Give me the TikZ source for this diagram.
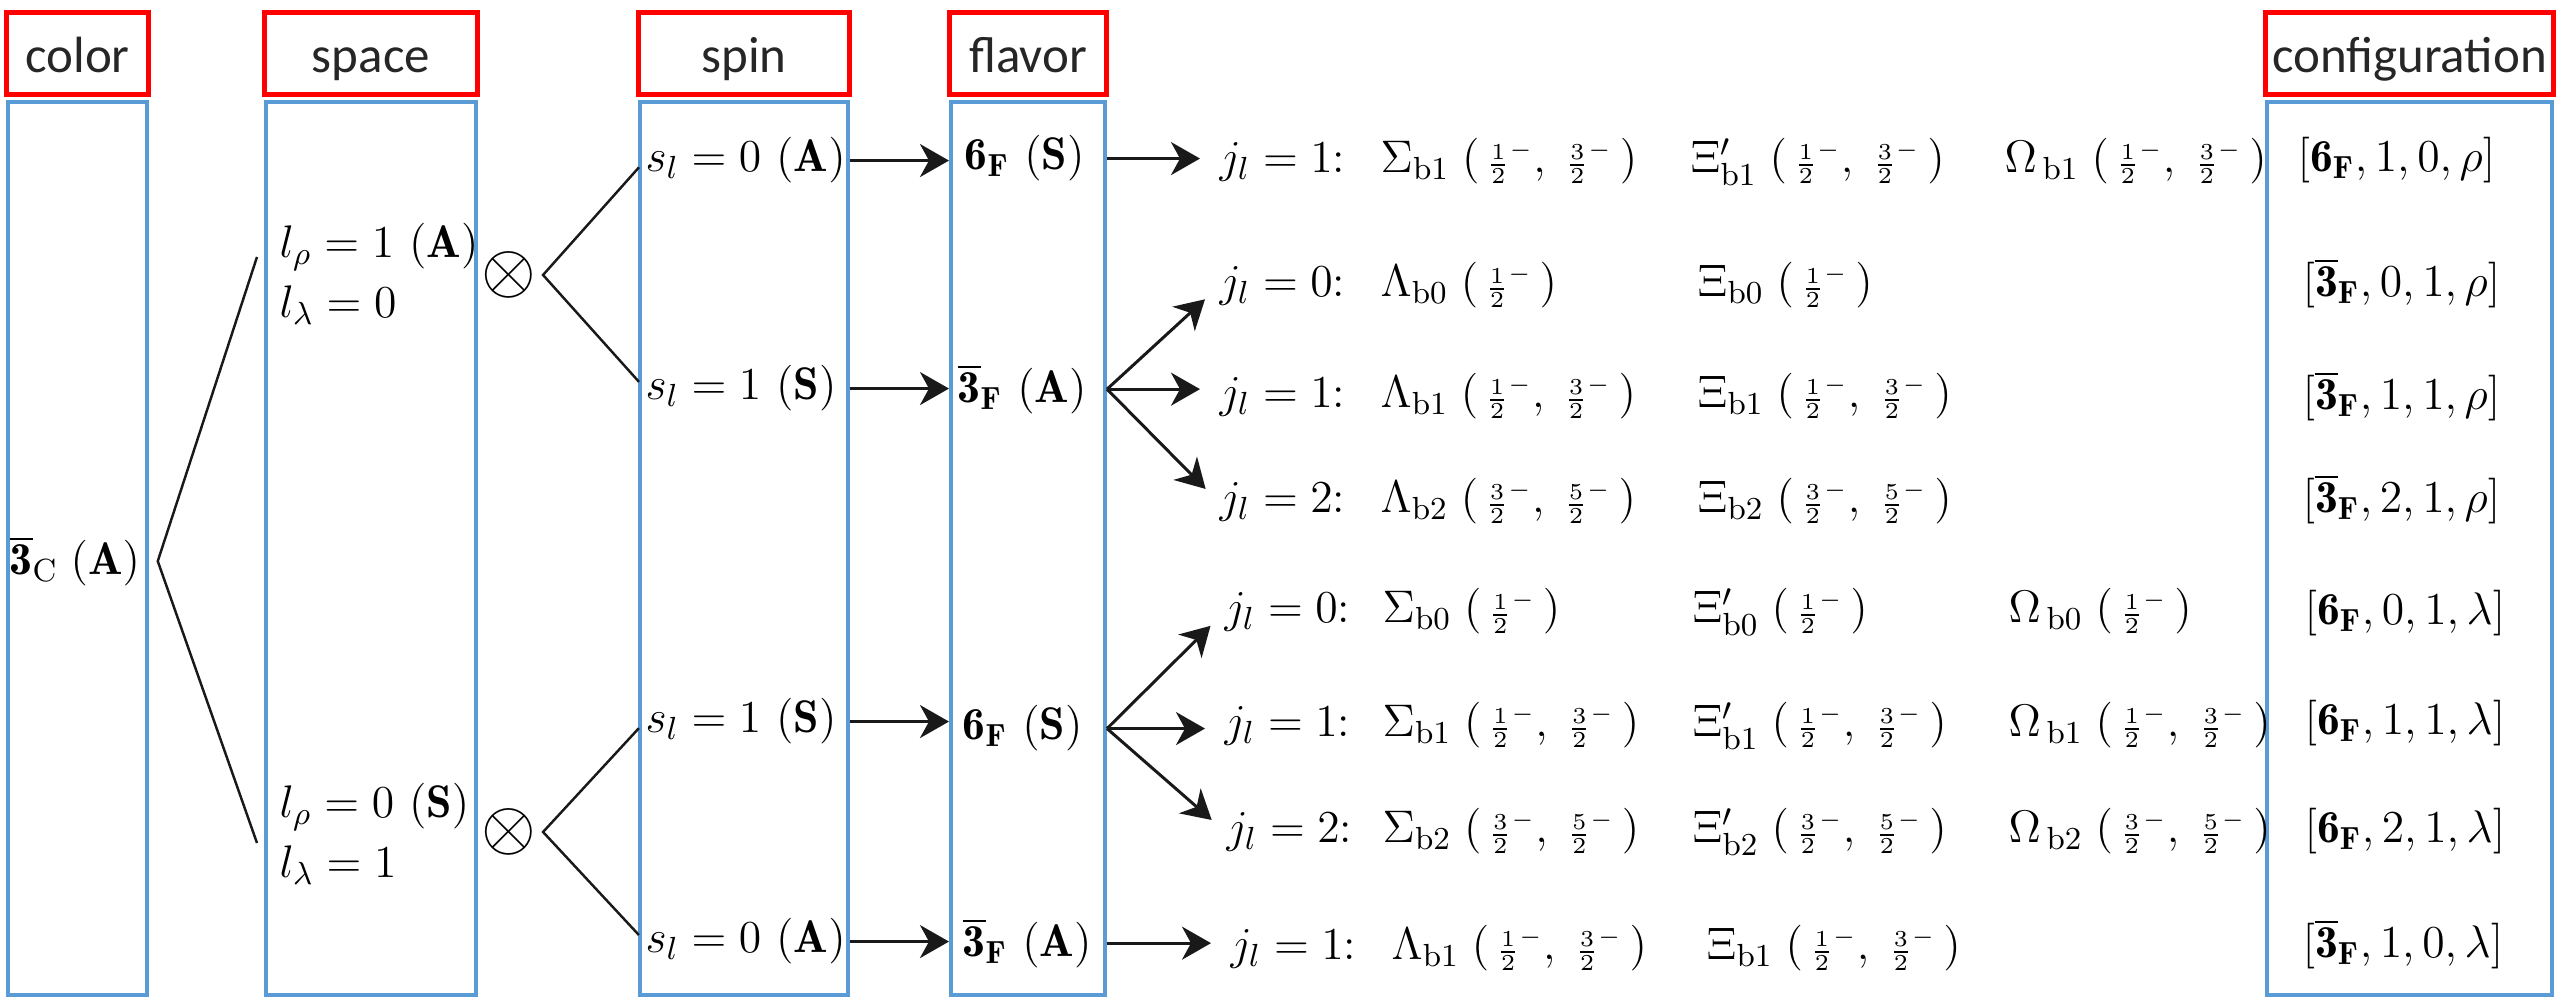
\documentclass[tikz,border=0pt]{standalone}
\usepackage{fix-cm}
\usepackage{amsmath,amssymb}
\usepackage{fontspec}
\newfontfamily\headfont{Carlito}
\usepackage{tikz}
\usetikzlibrary{arrows.meta, positioning, calc}
\definecolor{headred}{HTML}{FF0000}
\definecolor{colblue}{HTML}{5B9BD5}
\newcommand{\jfrac}[1]{{\genfrac{}{}{0.7pt}{2}{#1}{2}}^{\scriptscriptstyle -}}
\newcommand{\twoj}[2]{(\,\jfrac{#1},\;\jfrac{#2}\,)}
\newcommand{\onej}[1]{(\,\jfrac{#1}\,)}
\newcommand{\threebar}{\overline{\mathbf{3}}}
\tikzset{
    headbox/.style={rectangle, draw=headred, line width=1.4pt, minimum height=8.2mm, inner sep=0pt, text height=3.75mm, text depth=0pt, text=black!85, font=\headfont\fontsize{14.5}{17}\selectfont},
    colbox/.style={rectangle, draw=colblue, line width=1.15pt, minimum height=89.3mm, inner sep=0pt},
    lbl/.style={anchor=base west, inner sep=0pt, font=\fontsize{13}{15}\selectfont},
    tree/.style={line width=0.7pt, draw=black!90},
    arrow/.style={-{Stealth[length=2.9mm, width=3.3mm, inset=0.9mm]}, line width=0.85pt, draw=black!90}
}

\begin{document}
\begin{tikzpicture}[x=0.1mm, y=-0.1mm]
\useasboundingbox (0,0) rectangle (2560,999);
% headers and column frames
\node[headbox, minimum width=14.2mm] (hcolor) at (77.5,53.5) {color};
\node[headbox, minimum width=21.3mm] (hspc) at (371,53.5) {space};
\node[headbox, minimum width=21.1mm] (hspin) at (744,53.5) {spin};
\node[headbox, minimum width=15.7mm] (hflav) at (1028,53.5) {flavor};
\node[headbox, minimum width=28.8mm] (hconf) at (2409.5,53.5) {configuration};
\node[colbox, minimum width=13.9mm, below=0.3mm of hcolor] (bcolor) {};
\node[colbox, minimum width=21.0mm, below=0.3mm of hspc] (bspc) {};
\node[colbox, minimum width=20.8mm, below=0.3mm of hspin] (bspin) {};
\node[colbox, minimum width=15.4mm, below=0.3mm of hflav] (bflav) {};
\node[colbox, minimum width=28.5mm, below=0.3mm of hconf] (bconf) {};

% color and space
\node[lbl] (c3) at (9,575) {$\threebar_{\mathrm{C}}\;(\mathbf{A})$};
\node[lbl] (lr1) at (279,258) {$l_\rho = 1\ (\mathbf{A})$};
\node[lbl] (ll1) at (279,318) {$l_\lambda = 0$};
\node[lbl] (lr2) at (279,818) {$l_\rho = 0\ (\mathbf{S})$};
\node[lbl] (ll2) at (279,878) {$l_\lambda = 1$};
\node[inner xsep=0.6mm, inner ysep=0pt, font=\fontsize{20}{20}\selectfont] (ot1) at (509,275) {$\otimes$};
\node[inner xsep=0.6mm, inner ysep=0pt, font=\fontsize{20}{20}\selectfont] (ot2) at (509,832) {$\otimes$};

% spin and flavor
\node[lbl] (sl1) at (645,172) {$s_l = 0\ (\mathbf{A})$};
\node[lbl] (sl2) at (645,400) {$s_l = 1\ (\mathbf{S})$};
\node[lbl] (sl3) at (645,733) {$s_l = 1\ (\mathbf{S})$};
\node[lbl] (sl4) at (645,953) {$s_l = 0\ (\mathbf{A})$};
\node[lbl] (fl1) at (964,170) {$\mathbf{6}_{\mathbf{F}}\ (\mathbf{S})$};
\node[lbl] (fl2) at (957,403) {$\threebar_{\mathbf{F}}\ (\mathbf{A})$};
\node[lbl] (fl3) at (962,740) {$\mathbf{6}_{\mathbf{F}}\ (\mathbf{S})$};
\node[lbl] (fl4) at (962,957) {$\threebar_{\mathbf{F}}\ (\mathbf{A})$};

% j_l rows
\node[lbl] (jl1) at (1219,173) {$j_l = 1$:};
\node[lbl] (pa1) at (1380,173) {$\Sigma_{\mathrm{b1}}\;\twoj{1}{3}$};
\node[lbl] (pb1) at (1690,173) {$\Xi'_{\mathrm{b1}}\;\twoj{1}{3}$};
\node[lbl] (pc1) at (2004,173) {$\Omega_{\,\mathrm{b1}}\;\twoj{1}{3}$};
\node[lbl] (cf1) at (2297,172) {$[\mathbf{6}_{\mathbf{F}},1,0,\rho]$};

\node[lbl] (jl2) at (1219,297) {$j_l = 0$:};
\node[lbl] (pa2) at (1380,297) {$\Lambda_{\mathrm{b0}}\;\onej{1}$};
\node[lbl] (pb2) at (1697,297) {$\Xi_{\mathrm{b0}}\;\onej{1}$};
\node[lbl] (cf2) at (2302,297) {$[\threebar_{\mathbf{F}},0,1,\rho]$};

\node[lbl] (jl3) at (1219,408) {$j_l = 1$:};
\node[lbl] (pa3) at (1380,408) {$\Lambda_{\mathrm{b1}}\;\twoj{1}{3}$};
\node[lbl] (pb3) at (1697,408) {$\Xi_{\mathrm{b1}}\;\twoj{1}{3}$};
\node[lbl] (cf3) at (2302,410) {$[\threebar_{\mathbf{F}},1,1,\rho]$};

\node[lbl] (jl4) at (1219,513) {$j_l = 2$:};
\node[lbl] (pa4) at (1380,513) {$\Lambda_{\mathrm{b2}}\;\twoj{3}{5}$};
\node[lbl] (pb4) at (1697,513) {$\Xi_{\mathrm{b2}}\;\twoj{3}{5}$};
\node[lbl] (cf4) at (2302,513) {$[\threebar_{\mathbf{F}},2,1,\rho]$};

\node[lbl] (jl5) at (1224,623) {$j_l = 0$:};
\node[lbl] (pa5) at (1382,623) {$\Sigma_{\mathrm{b0}}\;\onej{1}$};
\node[lbl] (pb5) at (1692,623) {$\Xi'_{\mathrm{b0}}\;\onej{1}$};
\node[lbl] (pc5) at (2008,623) {$\Omega_{\,\mathrm{b0}}\;\onej{1}$};
\node[lbl] (cf5) at (2304,625) {$[\mathbf{6}_{\mathbf{F}},0,1,\lambda]$};

\node[lbl] (jl6) at (1224,737) {$j_l = 1$:};
\node[lbl] (pa6) at (1382,737) {$\Sigma_{\mathrm{b1}}\;\twoj{1}{3}$};
\node[lbl] (pb6) at (1692,737) {$\Xi'_{\mathrm{b1}}\;\twoj{1}{3}$};
\node[lbl] (pc6) at (2008,737) {$\Omega_{\,\mathrm{b1}}\;\twoj{1}{3}$};
\node[lbl] (cf6) at (2304,735) {$[\mathbf{6}_{\mathbf{F}},1,1,\lambda]$};

\node[lbl] (jl7) at (1226,843) {$j_l = 2$:};
\node[lbl] (pa7) at (1382,843) {$\Sigma_{\mathrm{b2}}\;\twoj{3}{5}$};
\node[lbl] (pb7) at (1692,843) {$\Xi'_{\mathrm{b2}}\;\twoj{3}{5}$};
\node[lbl] (pc7) at (2008,843) {$\Omega_{\,\mathrm{b2}}\;\twoj{3}{5}$};
\node[lbl] (cf7) at (2304,843) {$[\mathbf{6}_{\mathbf{F}},2,1,\lambda]$};

\node[lbl] (jl8) at (1230,960) {$j_l = 1$:};
\node[lbl] (pa8) at (1391,960) {$\Lambda_{\mathrm{b1}}\;\twoj{1}{3}$};
\node[lbl] (pb8) at (1706,960) {$\Xi_{\mathrm{b1}}\;\twoj{1}{3}$};
\node[lbl] (cf8) at (2302,958) {$[\threebar_{\mathbf{F}},1,0,\lambda]$};

% connectors
\coordinate (sa) at (257,257);
\coordinate (sb) at (257,843);
\draw[tree] (sa) -- ([xshift=1.7mm]c3.east) -- (sb);
\draw[tree, shorten <=0.9mm, shorten >=0.9mm] (sl1.west) -- (ot1.east) -- (sl2.west);
\draw[tree, shorten <=0.9mm, shorten >=0.9mm] (sl3.west) -- (ot2.east) -- (sl4.west);

\draw[arrow] (sl1.east -| bspin.east) -- (sl1.east -| bflav.west);
\draw[arrow] (sl2.east -| bspin.east) -- (sl2.east -| bflav.west);
\draw[arrow] (sl3.east -| bspin.east) -- (sl3.east -| bflav.west);
\draw[arrow] (sl4.east -| bspin.east) -- (sl4.east -| bflav.west);

\coordinate (fv1) at (fl1.east -| bflav.east);
\coordinate (fv2) at (fl2.east -| bflav.east);
\coordinate (fv3) at (fl3.east -| bflav.east);
\coordinate (fv4) at (fl4.east -| bflav.east);
\draw[arrow, shorten >=1.9mm] (fv1) -- (fv1 -| jl1.west);
\draw[arrow, shorten >=1.9mm] (fv2) -- (jl2.west);
\draw[arrow, shorten >=1.9mm] (fv2) -- (fv2 -| jl3.west);
\draw[arrow, shorten >=1.9mm] (fv2) -- (jl4.west);
\draw[arrow, shorten >=1.9mm] (fv3) -- (jl5.west);
\draw[arrow, shorten >=1.9mm] (fv3) -- (fv3 -| jl6.west);
\draw[arrow, shorten >=1.9mm] (fv3) -- (jl7.west);
\draw[arrow, shorten >=1.9mm] (fv4) -- (fv4 -| jl8.west);
\end{tikzpicture}
\end{document}
